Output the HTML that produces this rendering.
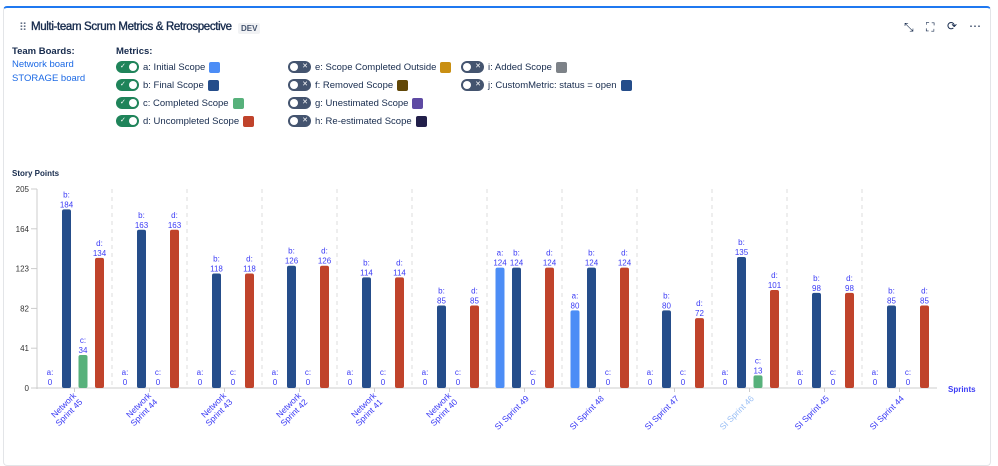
<!DOCTYPE html>
<html><head><meta charset="utf-8"><style>
*{box-sizing:border-box;margin:0;padding:0}
body{width:998px;height:454px;background:#fff;font-family:"Liberation Sans",sans-serif;position:relative;overflow:hidden}
.card{position:absolute;left:3px;top:6px;width:988px;height:460px;border:1px solid #e3e5e8;border-top:2px solid #1f78f0;border-radius:4px}
.abs{position:absolute}
.title{left:31px;top:21px;font-size:11.5px;color:#172b4d;letter-spacing:-0.35px;-webkit-text-stroke:0.35px #172b4d;white-space:nowrap}
.dev{left:238px;top:23px;font-size:8px;font-weight:bold;color:#44546f;background:#f1f2f4;padding:1px 3px;border-radius:2px}
.lbl{font-size:9.5px;color:#172b4d;font-weight:bold}
.link{font-size:9.5px;color:#1d6ae5}
.row{position:absolute;display:flex;align-items:center;font-size:9.5px;color:#172b4d;height:14px}
.tg{width:23px;height:12px;border-radius:6px;position:relative;margin-right:4px}
.tg.on{background:#1f845a}.tg.off{background:#44546f}
.tg::after{content:"";position:absolute;top:2px;width:8px;height:8px;border-radius:50%;background:#fff}
.tg.on::after{right:2px}.tg.off::after{left:2px}
.tg span{position:absolute;top:0;font-size:7px;color:#fff;line-height:12px}
.tg.on span{left:4px}.tg.off span{right:3px}
.sw{width:11px;height:11px;border-radius:2px;margin-left:4px}
</style></head><body>
<div class="card"></div>
<div class="abs" style="left:19px;top:21px;font-size:11px;color:#626f86">⠿</div>
<div class="abs title">Multi-team Scrum Metrics &amp; Retrospective</div>
<div class="abs dev">DEV</div>
<div class="abs" style="left:904px;top:20px;font-size:12px;color:#172b4d">⤡</div>
<div class="abs" style="left:926px;top:20px;font-size:12px;color:#172b4d">⛶</div>
<div class="abs" style="left:947px;top:19px;font-size:12px;color:#172b4d">⟳</div>
<div class="abs" style="left:969px;top:19px;font-size:12px;color:#172b4d">⋯</div>
<div class="abs lbl" style="left:12px;top:46px">Team Boards:</div>
<div class="abs link" style="left:12px;top:59px">Network board</div>
<div class="abs link" style="left:12px;top:73px">STORAGE board</div>
<div class="abs lbl" style="left:116px;top:46px">Metrics:</div>
<div class="row" style="left:116px;top:60px"><div class="tg on"><span>✓</span></div>a: Initial Scope<div class="sw" style="background:#4c8df6"></div></div>
<div class="row" style="left:116px;top:78px"><div class="tg on"><span>✓</span></div>b: Final Scope<div class="sw" style="background:#254d8a"></div></div>
<div class="row" style="left:116px;top:96px"><div class="tg on"><span>✓</span></div>c: Completed Scope<div class="sw" style="background:#57b17b"></div></div>
<div class="row" style="left:116px;top:114px"><div class="tg on"><span>✓</span></div>d: Uncompleted Scope<div class="sw" style="background:#c0432b"></div></div>
<div class="row" style="left:288px;top:60px"><div class="tg off"><span>✕</span></div>e: Scope Completed Outside<div class="sw" style="background:#c98f12"></div></div>
<div class="row" style="left:288px;top:78px"><div class="tg off"><span>✕</span></div>f: Removed Scope<div class="sw" style="background:#614707"></div></div>
<div class="row" style="left:288px;top:96px"><div class="tg off"><span>✕</span></div>g: Unestimated Scope<div class="sw" style="background:#5e4aa3"></div></div>
<div class="row" style="left:288px;top:114px"><div class="tg off"><span>✕</span></div>h: Re-estimated Scope<div class="sw" style="background:#221f4a"></div></div>
<div class="row" style="left:461px;top:60px"><div class="tg off"><span>✕</span></div>i: Added Scope<div class="sw" style="background:#7d8288"></div></div>
<div class="row" style="left:461px;top:78px"><div class="tg off"><span>✕</span></div>j: CustomMetric: status = open<div class="sw" style="background:#254d8a"></div></div>
<svg id="chart" class="abs" style="left:0;top:0" width="998" height="454"></svg>
<script>
const categories=[["Network","Sprint 45"],["Network","Sprint 44"],["Network","Sprint 43"],["Network","Sprint 42"],["Network","Sprint 41"],["Network","Sprint 40"],["SI Sprint 49"],["SI Sprint 48"],["SI Sprint 47"],["SI Sprint 46"],["SI Sprint 45"],["SI Sprint 44"]];
const seriesA=[0,0,0,0,0,0,124,80,0,0,0,0];
const seriesB=[184,163,118,126,114,85,124,124,80,135,98,85];
const seriesC=[34,0,0,0,0,0,0,0,0,13,0,0];
const seriesD=[134,163,118,126,114,85,124,124,72,101,98,85];
const seriesKeys=["a","b","c","d"];
const yTicks=[0,41,82,123,164,205];
const NS="http://www.w3.org/2000/svg";
const svg=document.getElementById('chart');
const X0=37,GW=75,Y0=388,YT=189,YMAX=205;
const y=v=>Y0-(v/YMAX)*(Y0-YT);
const colors=["#4c8df6","#254d8a","#57b17b","#c0432b"];
const offs=[13,29.5,46,62.5];
function mk(t,a,txt){const e=document.createElementNS(NS,t);for(const k in a)e.setAttribute(k,a[k]);if(txt!==undefined)e.textContent=txt;svg.appendChild(e);return e;}
let t=mk('text',{x:12,y:176,'font-size':8,'font-weight':'bold',fill:'#172b4d'},'Story Points');


let l=mk('line',{x1:X0,y1:YT,x2:X0,y2:Y0+1,stroke:'#ccc'});


yTicks.forEach(v=>{const e=mk('text',{x:29,y:y(v)+3,'font-size':8,fill:'#333','text-anchor':'end'},v);


mk('line',{x1:31,x2:X0,y1:y(v),y2:y(v),stroke:'#ccc'});});
const n=categories.length;
for(let i=1;i<n;i++){const d=mk('line',{x1:X0+GW*i,x2:X0+GW*i,y1:YT,y2:Y0,stroke:'#ddd','stroke-dasharray':'4,4'});

}
l=mk('line',{x1:X0,y1:Y0,x2:X0+GW*n,y2:Y0,stroke:'#ccc'});


t=mk('text',{x:948,y:392,'font-size':8,'font-weight':'bold',fill:'#3b3bf5'},'Sprints');


const all=[seriesA,seriesB,seriesC,seriesD];
categories.forEach((c,i)=>{
  const g0=X0+GW*i,cx=g0+GW/2;
  mk('line',{x1:cx,x2:cx,y1:Y0,y2:Y0+4,stroke:'#ccc'});
  all.forEach((s,k)=>{
    const v=s[i],bx=g0+offs[k];
    if(v>0){const r=mk('rect',{x:bx-4.5,y:y(v),width:9,height:Y0-y(v),rx:2,fill:colors[k]});
    
    }
    const ty=v>0?y(v)-12:Y0-13;
    const a=mk('text',{x:bx,y:ty,'font-size':8,fill:'#3b3bf5','text-anchor':'middle'},seriesKeys[k]+':');
    
    
    const b=mk('text',{x:bx,y:ty+10,'font-size':8,fill:'#3b3bf5','text-anchor':'middle'},v);
    
    
  });
  const col=i===9?'#9cc0f5':'#3b3bf5';
  const lt=mk('text',{transform:`translate(${cx+5},${Y0+11}) rotate(-45)`,'font-size':8.5,fill:col,'text-anchor':'end'});
  
  
  c.forEach((line,j)=>{const ts=document.createElementNS(NS,'tspan');ts.setAttribute('x',0);ts.setAttribute('dy',j===0?(c.length>1?-4:0):9);ts.textContent=line;lt.appendChild(ts);});
});
</script>
</body></html>
